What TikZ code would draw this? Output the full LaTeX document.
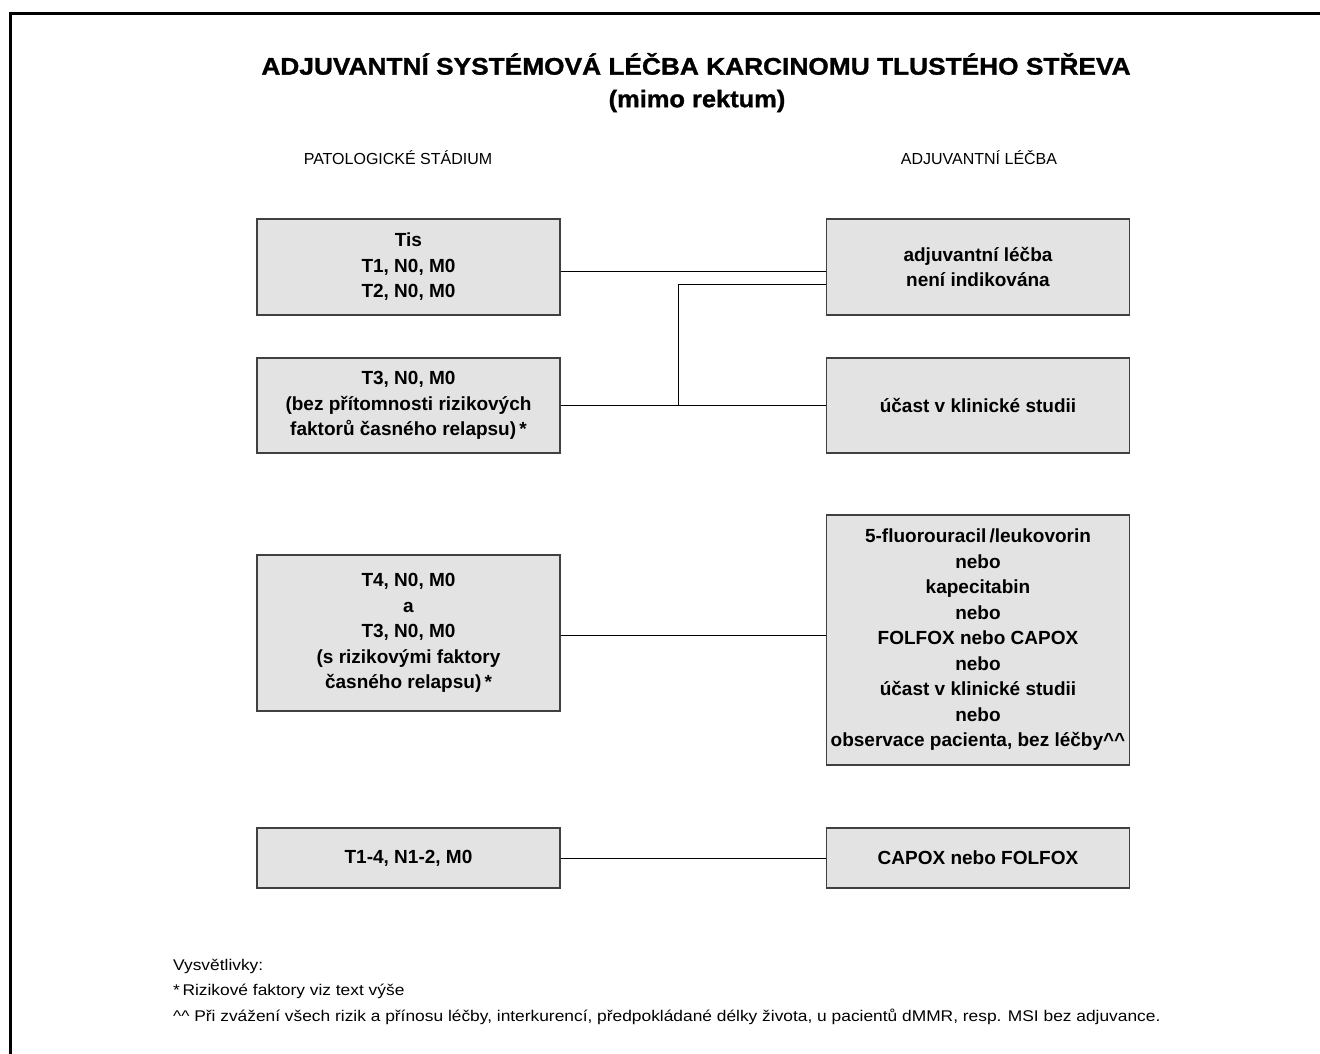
\documentclass[tikz,border=0pt]{standalone}
\usepackage{fontspec}
\setmainfont{Liberation Sans}
\newfontfamily\titlefont[FakeStretch=1.095, FakeBold=1.2]{Liberation Sans}
\newfontfamily\subtitlefont[FakeStretch=1.06, FakeBold=1.2]{Liberation Sans}
\newfontfamily\notefont[FakeStretch=1.12]{Liberation Sans}
\begin{document}
\begin{tikzpicture}[x=1pt,y=-1pt,
  stagebox/.style={draw=black!75, line width=1.1pt, fill=black!11, minimum width=303pt,
    align=center, inner sep=0pt, font=\fontsize{19}{25.5}\selectfont\bfseries},
  link/.style={draw=black, line width=1pt},
  head/.style={font=\fontsize{16}{19}\selectfont, inner sep=0pt},
  note/.style={font=\notefont\fontsize{15.5}{18}\selectfont, inner sep=0pt, anchor=west}]
\useasboundingbox (0,0) rectangle (1320,1053);
% frame
\draw[line width=3pt] (10,1060) -- (10,13) -- (1330,13);
% titles
\node[inner sep=0pt, font=\titlefont\fontsize{24}{28}\selectfont\bfseries] (title) at (696,64)
  {ADJUVANTNÍ SYSTÉMOVÁ LÉČBA KARCINOMU TLUSTÉHO STŘEVA};
\node[inner sep=0pt, font=\subtitlefont\fontsize{24}{28}\selectfont\bfseries] (subtitle) at (697,101)
  {(mimo rektum)};
\node[head] (hleft) at (398,158) {PATOLOGICKÉ STÁDIUM};
\node[head] (hright) at (979,158) {ADJUVANTNÍ LÉČBA};
% left boxes
\node[stagebox, minimum height=96pt] (L1) at (408.5,267) {Tis\\T1, N0, M0\\T2, N0, M0};
\node[stagebox, minimum height=95pt] (L2) at (408.5,405.5) {T3, N0, M0\\(bez přítomnosti rizikových\\faktorů časného relapsu)\,*};
\node[stagebox, minimum height=156pt] (L3) at (408.5,633) {T4, N0, M0\\a\\T3, N0, M0\\(s rizikovými faktory\\časného relapsu)\,*};
\node[stagebox, minimum height=60pt] (L4) at (408.5,858) {T1-4, N1-2, M0};
% right boxes
\node[stagebox, minimum height=96pt] (R1) at (978,267) {adjuvantní léčba\\není indikována};
\node[stagebox, minimum height=95pt] (R2) at (978,405.5) {účast v klinické studii};
\node[stagebox, minimum height=250pt] (R3) at (978,640) {5-fluorouracil\,/leukovorin\\nebo\\kapecitabin\\nebo\\FOLFOX nebo CAPOX\\nebo\\účast v klinické studii\\nebo\\observace pacienta, bez léčby\^{}\^{}};
\node[stagebox, minimum height=60pt] (R4) at (978,858) {CAPOX nebo FOLFOX};
% connectors
\draw[link] ([yshift=-4pt]L1.east) -- ([yshift=-4pt]L1.east -| R1.west);
\draw[link] (L2.east) -- (R2.west);
\coordinate (j) at (678,405.5);
\draw[link] (j) |- ([yshift=-17pt]R1.west);
\draw[link] ([yshift=-2pt]L3.east) -- ([yshift=-2pt]L3.east -| R3.west);
\draw[link] (L4.east) -- (R4.west);
% notes
\node[note] (n1) at (173,966) {Vysvětlivky:};
\node[note] (n2) at (173,991) {*\,Rizikové faktory viz text výše};
\node[note] (n3) at (173,1017) {\^{}\^{} Při zvážení všech rizik a přínosu léčby, interkurencí, předpokládané délky života, u pacientů dMMR, resp. MSI bez adjuvance.};
\end{tikzpicture}
\end{document}
